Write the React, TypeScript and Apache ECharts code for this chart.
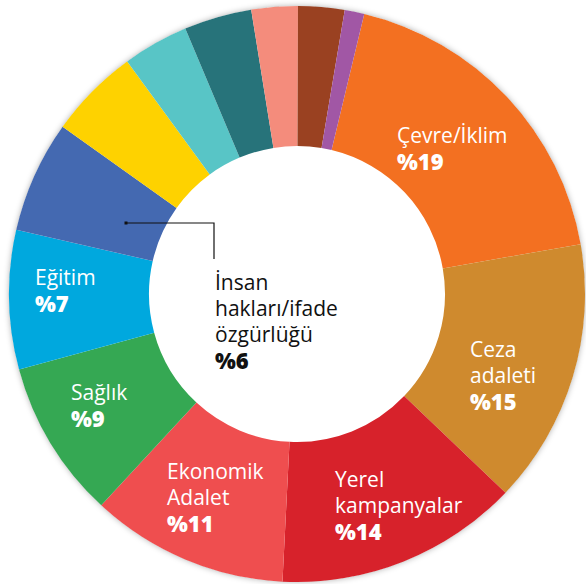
import React, { useEffect, useRef } from 'react';
import * as echarts from 'echarts';

// Slices, clockwise starting from "Çevre/İklim"
const CATEGORIES = [
  'Çevre/İklim',
  'Ceza adaleti',
  'Yerel kampanyalar',
  'Ekonomik Adalet',
  'Sağlık',
  'Eğitim',
  'İnsan hakları/ifade özgürlüğü',
  '', '', '', '', '', '',
];
const VALUES = [18.5, 14.9, 13.7, 11.1, 8.9, 7.8, 6.3, 5.1, 3.7, 3.8, 2.6, 2.6, 1.1];
const PERCENT_LABELS = ['%19', '%15', '%14', '%11', '%9', '%7', '%6', '', '', '', '', '', ''];
const LABEL_LINES = [
  ['Çevre/İklim'],
  ['Ceza', 'adaleti'],
  ['Yerel', 'kampanyalar'],
  ['Ekonomik', 'Adalet'],
  ['Sağlık'],
  ['Eğitim'],
  ['İnsan', 'hakları/ifade', 'özgürlüğü'],
  [], [], [], [], [], [],
];
const COLORS = [
  '#F37021', '#CF8A2E', '#D7222B', '#EF4E4F', '#35A853', '#00A8DE', '#4469B1',
  '#FED200', '#58C5C6', '#27737A', '#F48C7C', '#9A4121', '#A157A5',
];

// layout (top-left of each label block)
const LABEL_ANCHORS: number[][] = [
  [397, 122], [470, 336], [335, 466], [167, 458], [71, 379], [35, 264], [215, 269],
];
const DARK_INDEX = 6;
const LEADER_POINTS = [[126, 223], [214, 223], [214, 259]];
const FONT = '"Open Sans", "Noto Sans", sans-serif';

export default function App() {
  const ref = useRef<HTMLDivElement>(null);
  useEffect(() => {
    document.body.style.margin = '0';
    const chart = echarts.init(ref.current!, null, { renderer: 'svg' });
    const data = VALUES.map((v, i) => {
      const color = i === DARK_INDEX ? '#111111' : '#ffffff';
      const hasLabel = LABEL_LINES[i].length > 0;
      return {
        value: v,
        name: CATEGORIES[i],
        itemStyle: { color: COLORS[i] },
        label: {
          show: hasLabel,
          position: 'inside',
          formatter: () =>
            LABEL_LINES[i].map((l) => `{n|${l}}`).join('\n') + `\n{v|${PERCENT_LABELS[i]}}`,
          rich: {
            n: { fontFamily: FONT, fontSize: 21, lineHeight: 26, color },
            v: { fontFamily: FONT, fontSize: 22, fontWeight: 800, lineHeight: 26, color },
          },
        },
        labelLine: { show: false },
      };
    });
    chart.setOption({
      animation: false,
      graphic: [
        {
          type: 'circle',
          z: 0,
          shape: { cx: 297, cy: 294, r: 287.5 },
          style: { fill: '#ffffff', shadowBlur: 6, shadowColor: 'rgba(0,0,0,0.35)' },
        },
        {
          type: 'polyline',
          z: 10,
          shape: { points: LEADER_POINTS },
          style: { stroke: '#111111', lineWidth: 1.2, fill: 'none' },
        },
        {
          type: 'rect',
          z: 10,
          shape: { x: 124.5, y: 221.5, width: 3, height: 3 },
          style: { fill: '#111111' },
        },
      ],
      series: [
        {
          type: 'pie',
          z: 2,
          center: [297, 294],
          radius: [148, 288],
          startAngle: 76.5,
          clockwise: true,
          avoidLabelOverlap: false,
          silent: true,
          itemStyle: { borderWidth: 0 },
          data,
          labelLayout: (params: any) => {
            const a = LABEL_ANCHORS[params.dataIndex];
            if (!a) return {};
            return { x: a[0], y: a[1], align: 'left', verticalAlign: 'top' };
          },
        },
      ],
    });
    return () => chart.dispose();
  }, []);
  return (
    <div
      ref={ref}
      style={{ position: 'absolute', left: 0, top: 0, width: 586, height: 584 }}
    />
  );
}
